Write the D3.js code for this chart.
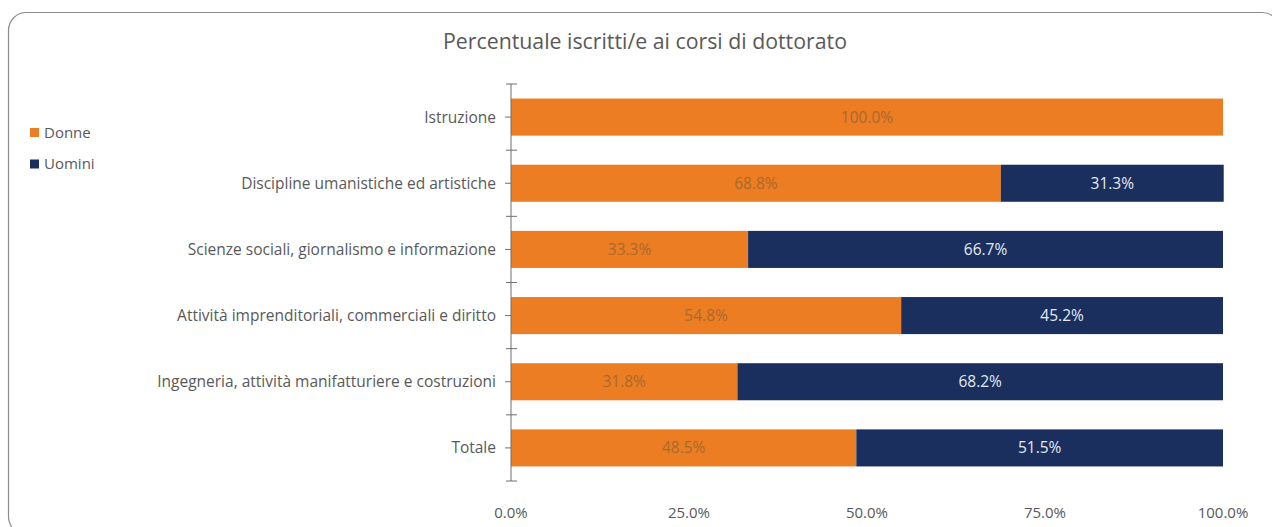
<!DOCTYPE html>
<html><head><meta charset="utf-8">
<script src="https://cdn.jsdelivr.net/npm/d3@7"></script>
<style>body{margin:0;background:#fff;} svg{display:block;}</style>
</head><body>
<svg id="chart" width="1272" height="527"></svg>
<script>
const categories = ["Istruzione","Discipline umanistiche ed artistiche","Scienze sociali, giornalismo e informazione","Attività imprenditoriali, commerciali e diritto","Ingegneria, attività manifatturiere e costruzioni","Totale"];
const donne = [100.0, 68.8, 33.3, 54.8, 31.8, 48.5];
const uomini = [0.0, 31.3, 66.7, 45.2, 68.2, 51.5];
const seriesNames = ["Donne","Uomini"];
const tickValues = [0, 25, 50, 75, 100];
const title = "Percentuale iscritti/e ai corsi di dottorato";

const colors = {Donne:"#ED7D22", Uomini:"#1A2F5E"};
const font = "Open Sans, sans-serif";
const svg = d3.select("#chart");

// frame
svg.append("rect").attr("x",8.5).attr("y",12.5).attr("width",1271.5).attr("height",522)
  .attr("rx",18).attr("fill","none").attr("stroke","#8c8c8c").attr("stroke-width",1.2);

const margin = {left:511, right:1223, top:84, bottom:481};
const x = d3.scaleLinear().domain([0,100]).range([margin.left, margin.right]);
const y = d3.scaleBand().domain(categories).range([margin.top, margin.bottom]).paddingInner(0.44).paddingOuter(0.22);

// title
svg.append("text").attr("x",645).attr("y",49).attr("text-anchor","middle")
  .attr("font-family",font).attr("font-size",21.3).attr("fill","#595959").text(title);

const rows = categories.map((c,i)=>({cat:c, Donne:donne[i], Uomini:uomini[i]}));
const stack = d3.stack().keys(seriesNames)(rows);

const g = svg.append("g");
stack.forEach(layer=>{
  g.selectAll(null).data(layer).join("rect")
    .attr("x",d=>x(d[0])).attr("width",d=>x(d[1])-x(d[0]))
    .attr("y",d=>y(d.data.cat)).attr("height",y.bandwidth())
    .attr("fill",colors[layer.key]);
  g.selectAll(null).data(layer.filter(d=>d[1]-d[0]>0)).join("text")
    .attr("x",d=>(x(d[0])+x(d[1]))/2).attr("y",d=>y(d.data.cat)+y.bandwidth()/2)
    .attr("dy","0.36em").attr("text-anchor","middle")
    .attr("font-family",font).attr("font-size",15.5)
    .attr("fill",layer.key==="Donne"?"#A8692F":"#E4E9F0")
    .text(d=>(d[1]-d[0]).toFixed(1)+"%");
});

// y axis line and ticks at band boundaries
const ax = svg.append("g");
ax.append("line").attr("x1",margin.left).attr("x2",margin.left).attr("y1",margin.top).attr("y2",margin.bottom)
  .attr("stroke","#6f6f6f").attr("stroke-width",1);
const bounds = d3.range(categories.length+1).map(i=>margin.top + i*(margin.bottom-margin.top)/categories.length);
ax.selectAll(null).data(bounds).join("line")
  .attr("x1",margin.left-5).attr("x2",margin.left+6).attr("y1",d=>d).attr("y2",d=>d)
  .attr("stroke","#6f6f6f");
ax.selectAll(null).data(categories).join("line")
  .attr("x1",margin.left-6).attr("x2",margin.left).attr("y1",d=>y(d)+y.bandwidth()/2).attr("y2",d=>y(d)+y.bandwidth()/2)
  .attr("stroke","#6f6f6f");
ax.selectAll(null).data(categories).join("text")
  .attr("x",margin.left-15).attr("y",d=>y(d)+y.bandwidth()/2).attr("dy","0.36em")
  .attr("text-anchor","end").attr("font-family",font).attr("font-size",15.5)
  .attr("fill","#595959").text(d=>d);

// x tick labels
svg.append("g").selectAll(null).data(tickValues).join("text")
  .attr("x",d=>x(d)).attr("y",518).attr("text-anchor","middle")
  .attr("font-family",font).attr("font-size",15).attr("fill","#595959")
  .text(d=>d.toFixed(1)+"%");

// legend
const leg = svg.append("g");
seriesNames.forEach((s,i)=>{
  const ly = 132.5 + i*31.5;
  leg.append("rect").attr("x",30).attr("y",ly-4.5).attr("width",9).attr("height",9).attr("fill",colors[s]);
  leg.append("text").attr("x",44).attr("y",ly).attr("dy","0.36em").attr("font-family",font)
    .attr("font-size",15).attr("fill","#595959").text(s);
});
</script>
</body></html>
